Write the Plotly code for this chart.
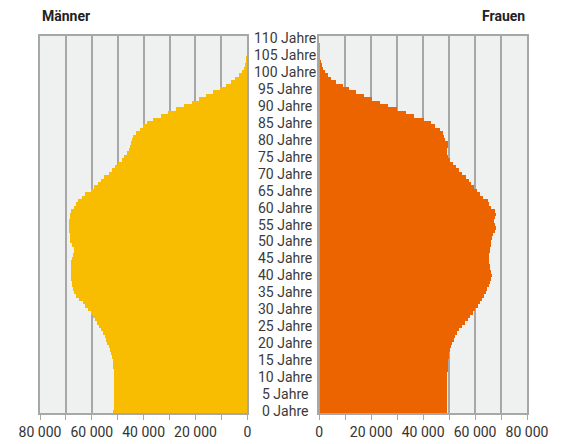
import plotly.graph_objects as go
from plotly.subplots import make_subplots

# Alter 0 bis 110
ages = list(range(0, 111))

maenner = [
    51700, 51600, 51500, 51500, 51400, 51400, 51300, 51300, 51300, 51300,
    51400, 51500, 51600, 51700, 51900, 52000, 52300, 52600, 53000, 53500,
    54000, 54500, 55100, 55800, 56600, 57400, 58000, 58800, 59600, 60500,
    61500, 62600, 63600, 64800, 66000, 66900, 67300, 67500, 67700, 68000,
    68200, 68200, 68100, 68000, 67900, 67800, 67400, 66800, 66900, 67700,
    68300, 68300, 68600, 68800, 68900, 68900, 68800, 68600, 68400, 68000,
    67000, 66300, 65200, 63800, 62500, 60500, 59000, 57800, 56500, 55300,
    53500, 52200, 51000, 49800, 48500, 47500, 46300, 45700, 45200, 44800,
    44500, 44000, 42800, 41500, 40300, 38600, 36500, 33500, 30500, 27500,
    24500, 21500, 18500, 15800, 13200, 10500, 8300, 6300, 4600, 3300,
    2200, 1400, 800, 400, 200, 100, 50, 20, 10, 0,
    0,
]

frauen = [
    49200, 49200, 49200, 49200, 49200, 49200, 49200, 49200, 49200, 49200,
    49300, 49400, 49500, 49600, 49700, 49800, 50000, 50100, 50500, 51000,
    51400, 51900, 52400, 53200, 54000, 55000, 56300, 57200, 58200, 59200,
    60200, 61200, 61900, 62700, 63500, 64200, 64800, 65500, 65900, 66200,
    66500, 66200, 65900, 65700, 65600, 65600, 65600, 65700, 65800, 66100,
    66400, 66800, 67200, 67600, 68000, 67700, 67400, 67900, 68300, 67600,
    66300, 65500, 64900, 63200, 62000, 61000, 59700, 58600, 57800, 56500,
    55200, 54000, 52800, 51600, 50500, 49700, 49200, 49200, 49800, 49500,
    48600, 48200, 47700, 46700, 44500, 43100, 40300, 36700, 33500, 30000,
    26700, 23600, 20300, 17400, 14200, 11700, 9100, 6500, 4600, 3300,
    2300, 1700, 1100, 700, 300, 100, 50, 20, 10, 0,
    0,
]

tick_vals = [0, 10000, 20000, 30000, 40000, 50000, 60000, 70000, 80000]
tick_text = ["0", "", "20 000", "", "40 000", "", "60 000", "", "80 000"]
age_labels = list(range(0, 111, 5))

grid = "#a7a7a7"

fig = make_subplots(rows=1, cols=2, shared_yaxes=False, horizontal_spacing=0.1478)

fig.add_trace(go.Bar(y=ages, x=maenner, orientation="h", width=1,
                     marker=dict(color="#F8BC00", line=dict(width=0)),
                     name="Männer"), row=1, col=1)
fig.add_trace(go.Bar(y=ages, x=frauen, orientation="h", width=1,
                     marker=dict(color="#EC6400", line=dict(width=0)),
                     name="Frauen"), row=1, col=2)

axis_x = dict(tickvals=tick_vals, ticktext=tick_text, showgrid=True, gridcolor=grid,
              gridwidth=1.5, zeroline=False, showline=True, linecolor=grid, linewidth=1.5,
              mirror=True, ticks="outside", ticklen=5, tickcolor=grid, automargin=False,
              tickfont=dict(size=14, color="#333333"))
axis_y = dict(range=[-0.5, 110.5], showticklabels=False, showgrid=False, zeroline=False,
              showline=True, linecolor=grid, linewidth=1.5, mirror=True, ticks="",
              automargin=False)

fig.update_xaxes(axis_x)
fig.update_yaxes(axis_y)
fig.update_xaxes(range=[80000, 0], domain=[0, 0.4257], row=1, col=1)
fig.update_xaxes(range=[0, 80000], domain=[0.5735, 1], row=1, col=2)

for a in age_labels:
    fig.add_annotation(x=0.503, xref="paper", y=a, yref="y", text=f"{a} Jahre",
                       showarrow=False, xanchor="center", yanchor="middle",
                       font=dict(size=14, color="#3a3a3a"))

fig.add_annotation(x=0, xref="paper", y=1, yref="paper", yshift=20, text="<b>Männer</b>",
                   showarrow=False, xanchor="left", yanchor="middle",
                   font=dict(size=14, color="#222222"))
fig.add_annotation(x=1, xref="paper", y=1, yref="paper", yshift=20, text="<b>Frauen</b>",
                   showarrow=False, xanchor="right", yanchor="middle",
                   font=dict(size=14, color="#222222"))

fig.update_layout(
    width=562, height=444,
    margin=dict(l=40, r=35, t=36, b=31),
    bargap=0, showlegend=False,
    plot_bgcolor="#EFF0F0", paper_bgcolor="white",
    font=dict(family="Roboto, sans-serif", color="#333333"),
)

# Browser-Standardrand der Seite entfernen
fig.write_html("out.html", config={"displayModeBar": False},
               post_script="document.body.style.margin='0';")
